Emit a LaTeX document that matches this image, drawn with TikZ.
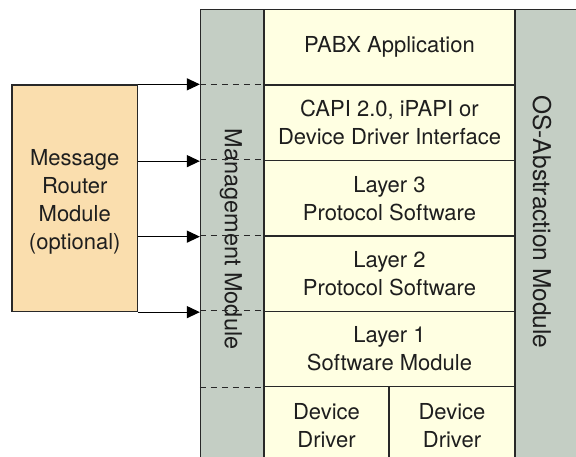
\documentclass[tikz,border=0pt]{standalone}
\usepackage{fontspec}
\setmainfont{TeX Gyre Heros}
\usetikzlibrary{arrows.meta}
\definecolor{colgrey}{RGB}{196,206,196}
\definecolor{cellyel}{RGB}{255,255,226}
\definecolor{routerorg}{RGB}{250,222,174}
\definecolor{bordc}{RGB}{40,40,40}
\definecolor{txtc}{RGB}{30,30,30}
\tikzset{
  cell/.style={draw=bordc, line width=1.3pt, fill=cellyel, inner sep=0pt, align=center,
    minimum width=251pt, minimum height=75.5pt, text=txtc,
    font=\fontsize{22}{28}\selectfont},
  column/.style={draw=bordc, line width=1.3pt, fill=colgrey, inner sep=0pt},
  coltext/.style={rotate=-90, text=txtc, inner sep=0pt},
  mgmtdash/.style={draw=bordc, line width=1.1pt, dash pattern=on 6pt off 5pt},
  arr/.style={draw=black, line width=1.2pt, -{Triangle[length=13pt,width=12pt]}}
}
\begin{document}
\begin{tikzpicture}[x=1pt,y=-1pt]
\useasboundingbox (0,0) rectangle (576,457);
% columns
\node[column, minimum width=63.5pt, minimum height=454.5pt] (mgmt) at (232.25,236.75) {};
\node[column, minimum width=75pt, minimum height=454.5pt] (osabs) at (552.5,236.75) {};
% cells
\node[cell] (pabx) at (389.5,47.25) {PABX Application};
\node[cell] (capi) at (389.5,122.75) {CAPI 2.0, iPAPI or\\Device Driver Interface};
\node[cell] (lthree) at (389.5,198.25) {Layer 3\\Protocol Software};
\node[cell] (ltwo) at (389.5,273.75) {Layer 2\\Protocol Software};
\node[cell, minimum height=75pt] (lone) at (389.5,349) {Layer 1\\Software Module};
\node[cell, minimum width=125pt, minimum height=77.5pt] (ddone) at (326.5,425.25) {Device\\Driver};
\node[cell, minimum width=126pt, minimum height=77.5pt] (ddtwo) at (452,425.25) {Device\\Driver};
% column labels
\node[coltext, font=\fontsize{23.5}{28}\selectfont] (mgmttext) at (231,239) {Management Module};
\node[coltext, font=\fontsize{24.5}{28}\selectfont] (ostext) at (542,222) {OS-Abstraction Module};
% router
\node[draw=bordc, line width=1.3pt, fill=routerorg, inner sep=0pt, minimum width=125.5pt,
  minimum height=226.5pt, align=center, text=txtc, font=\fontsize{22}{28}\selectfont]
  (router) at (74.75,198.25) {\\[-4pt]Message\\Router\\Module\\(optional)};
% dashed separators in management column
\foreach \r in {capi,lthree,ltwo,lone} {
  \draw[mgmtdash] (mgmt.west |- \r.north) -- (mgmt.east |- \r.north);
}
\draw[mgmtdash] (mgmt.west |- lone.south) -- (mgmt.east |- lone.south);
% arrows
\draw[arr] (router.north east) -- (mgmt.west |- router.north east);
\draw[arr] (router.east |- capi.south) -- (mgmt.west |- capi.south);
\draw[arr] (router.east |- lthree.south) -- (mgmt.west |- lthree.south);
\draw[arr] (router.south east) -- (mgmt.west |- router.south east);
\end{tikzpicture}
\end{document}
